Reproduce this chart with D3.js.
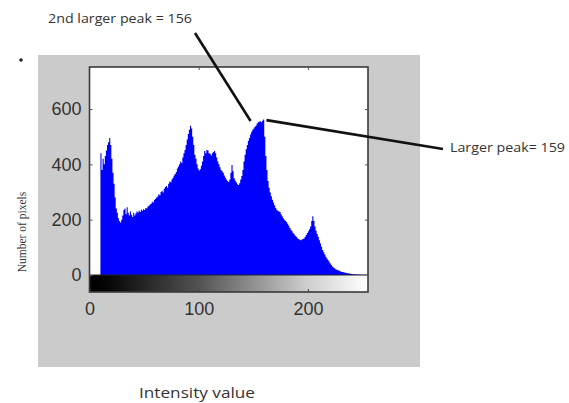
<!DOCTYPE html>
<html>
<head>
<meta charset="utf-8">
<script src="https://cdn.jsdelivr.net/npm/d3@7"></script>
<style>
  html, body { margin: 0; padding: 0; background: #fff; }
  svg { display: block; }
</style>
</head>
<body>
<svg id="chart" width="569" height="403"></svg>
<script>
// ---- data ----
const intensities = d3.range(0, 256);
const pixelCounts = [
  0,0,0,0,0,0,0,0,0,0,
  440,380,420,400,430,450,470,480,495,470,
  420,370,330,280,240,225,205,195,190,200,
  215,235,240,220,245,225,215,230,218,210,
  225,215,222,230,226,232,228,236,232,238,
  235,242,240,248,250,255,258,265,262,272,
  275,280,284,292,288,300,305,298,312,318,
  322,315,330,338,335,345,352,360,365,372,
  385,392,400,410,405,425,440,452,470,490,
  510,525,540,530,500,470,435,420,400,385,
  378,382,395,410,430,448,440,452,450,440,
  438,432,440,445,448,440,425,410,400,390,
  380,375,370,360,352,345,340,336,345,370,
  398,375,350,342,335,328,325,332,345,358,
  380,410,435,455,470,485,495,508,518,525,
  530,536,540,548,552,554,556,552,558,562,
  500,430,380,340,315,298,285,272,262,252,
  242,236,232,230,228,220,212,205,200,196,
  192,185,178,170,164,158,152,147,142,138,
  133,130,127,126,128,130,132,138,145,152,
  158,165,175,195,212,195,175,160,148,138,
  126,114,102,90,82,74,66,60,54,48,
  42,36,31,27,24,21,19,17,16,14,
  12,11,10,9,8,7,6,5,5,4,
  4,3,3,3,2,2,2,2,1,1,
  1,1,1,1,0,0
];
const xTicks = [0, 100, 200];
const yTicks = [0, 200, 400, 600];
const xDomain = [0, 255];
const yDomain = [0, 752];
const peakLabels = ["2nd larger peak = 156", "Larger peak= 159"];
const peakAnchors = [[147.5, 557], [162, 560]];   // data coords where the leader lines touch
const xTitle = "Intensity value";
const yTitle = "Number of pixels";

// ---- layout ----
const svg = d3.select("#chart");
const box = { left: 89.5, right: 368, top: 67, bottom: 292 };
const zeroY = 275;

const x = d3.scaleLinear().domain(xDomain).range([box.left, box.right]);
const y = d3.scaleLinear().domain(yDomain).range([zeroY, box.top]);

// gray figure background
svg.append("rect").attr("x", 38).attr("y", 55).attr("width", 382).attr("height", 312)
  .attr("fill", "#cbcbcb");

// plot area
svg.append("rect").attr("x", box.left).attr("y", box.top)
  .attr("width", box.right - box.left).attr("height", box.bottom - box.top)
  .attr("fill", "#fff");

// histogram (solid stepped fill, no gaps between bins)
const histArea = d3.area()
  .curve(d3.curveStepAfter)
  .x(d => x(d))
  .y0(zeroY)
  .y1(d => y(pixelCounts[d]));
svg.append("path").datum(intensities.concat([256]).filter(d => d <= 255).concat([255]))
  .attr("d", histArea)
  .attr("fill", "#0000ff");

// colorbar
const defs = svg.append("defs");
const grad = defs.append("linearGradient").attr("id", "gray").attr("x1", "0%").attr("x2", "100%");
[[0, "#000"], [0.06, "#050505"], [0.4, "#555"], [0.78, "#cdcdcd"], [1, "#fff"]].forEach(s =>
  grad.append("stop").attr("offset", s[0]).attr("stop-color", s[1]));
svg.append("rect").attr("x", box.left).attr("y", zeroY)
  .attr("width", box.right - box.left).attr("height", box.bottom - zeroY)
  .attr("fill", "url(#gray)");
svg.append("line").attr("x1", box.left).attr("x2", box.right).attr("y1", zeroY).attr("y2", zeroY)
  .attr("stroke", "#222").attr("stroke-width", 1);

// box outline
svg.append("rect").attr("x", box.left).attr("y", box.top)
  .attr("width", box.right - box.left).attr("height", box.bottom - box.top)
  .attr("fill", "none").attr("stroke", "#3a3a3a").attr("stroke-width", 1.6);

// axes (ticks inside, MATLAB style)
const tickFont = "Liberation Sans, Arial, sans-serif";
const xAxis = svg.append("g").attr("transform", `translate(0,${box.bottom})`)
  .call(d3.axisBottom(x).tickValues(xTicks).tickSize(-3).tickPadding(10));
xAxis.select(".domain").remove();
xAxis.selectAll("line").attr("stroke", "#444");
xAxis.selectAll("text").attr("font-size", 18).attr("font-family", tickFont).attr("fill", "#333");

const xTop = svg.append("g").attr("transform", `translate(0,${box.top})`)
  .call(d3.axisTop(x).tickValues(xTicks.slice(1)).tickSize(-3).tickFormat(""));
xTop.select(".domain").remove();
xTop.selectAll("line").attr("stroke", "#555");

const yAxis = svg.append("g").attr("transform", `translate(${box.left},0)`)
  .call(d3.axisLeft(y).tickValues(yTicks).tickSize(-3).tickPadding(8));
yAxis.select(".domain").remove();
yAxis.selectAll("line").attr("stroke", "#555");
yAxis.selectAll("text").attr("font-size", 18).attr("font-family", tickFont).attr("fill", "#333");

const yRight = svg.append("g").attr("transform", `translate(${box.right},0)`)
  .call(d3.axisRight(y).tickValues(yTicks.slice(1)).tickSize(-3).tickFormat(""));
yRight.select(".domain").remove();
yRight.selectAll("line").attr("stroke", "#555");

// axis titles
svg.append("text").attr("x", 139).attr("y", 398).text(xTitle)
  .attr("font-family", "Open Sans, sans-serif").attr("font-size", 14).attr("fill", "#333")
  .attr("textLength", 116).attr("lengthAdjust", "spacingAndGlyphs");
svg.append("text").attr("transform", "translate(26,232) rotate(-90)").attr("text-anchor", "middle")
  .text(yTitle).attr("font-family", "Liberation Serif, serif").attr("font-size", 11.5).attr("fill", "#333");

// annotations
const ann = [
  { text: peakLabels[0], tx: 48, ty: 23, tw: 144, from: [195, 33], to: peakAnchors[0] },
  { text: peakLabels[1], tx: 450, ty: 152, tw: 115, from: [443, 149], to: peakAnchors[1] }
];
ann.forEach(a => {
  svg.append("line")
    .attr("x1", a.from[0]).attr("y1", a.from[1])
    .attr("x2", x(a.to[0])).attr("y2", y(a.to[1]))
    .attr("stroke", "#111").attr("stroke-width", 2.6);
  svg.append("text").attr("x", a.tx).attr("y", a.ty).text(a.text)
    .attr("font-family", "Open Sans, sans-serif").attr("font-size", 12.5).attr("fill", "#333")
    .attr("textLength", a.tw).attr("lengthAdjust", "spacingAndGlyphs");
});

// stray dot
svg.append("circle").attr("cx", 21).attr("cy", 60).attr("r", 1.8).attr("fill", "#222");
</script>
</body>
</html>
